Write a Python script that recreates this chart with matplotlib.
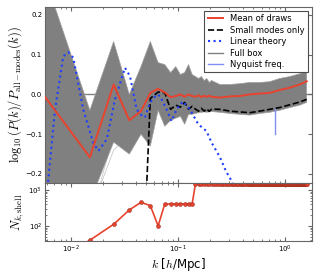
import numpy as np
import matplotlib
matplotlib.use("Agg")
from matplotlib import pyplot as plt

plt.rcParams['mathtext.fontset'] = 'cm'
plt.rcParams['font.family'] = ['DejaVu Sans']

# k bins of the draws (bin centres, dk = 0.01 h/Mpc)
k_bins = np.round(np.arange(0.005, 1.59, 0.01), 3)
n_shell = [6, 40, 111, 278, 455, 366, 100] + [408] * 7 + [1468] * (len(k_bins) - 14)

# top panel nodes
k_top = [0.005, 0.015, 0.025, 0.035, 0.045, 0.055, 0.065, 0.075, 0.085, 0.095,
         0.105, 0.115, 0.125, 0.135, 0.145, 0.155, 0.165, 0.175, 0.185, 0.195,
         0.205, 0.245, 0.305, 0.375, 0.465, 0.575, 0.715, 0.885, 1.105, 1.365, 1.585]
mean_draws = [0.015, -0.158, 0.025, -0.065, -0.042, 0.004, 0.014, 0.005, -0.007, -0.004,
              0.0, -0.006, 0.0, -0.004, -0.006, -0.002, -0.007, -0.003, -0.006, -0.003,
              -0.006, -0.008, -0.005, -0.004, 0.0, 0.002, 0.004, 0.011, 0.017, 0.025, 0.033]
band_hi = [0.34, -0.04, 0.133, 0.0, 0.07, 0.133, 0.08, 0.075, 0.055, 0.07,
           0.05, 0.055, 0.075, 0.05, 0.045, 0.04, 0.045, 0.035, 0.04, 0.03,
           0.035, 0.025, 0.025, 0.027, 0.03, 0.03, 0.032, 0.04, 0.045, 0.052, 0.058]
band_lo = [-0.5, -0.27, -0.12, -0.15, -0.10, -0.13, -0.04, -0.08, -0.065, -0.06,
           -0.055, -0.075, -0.05, -0.05, -0.048, -0.046, -0.045, -0.044, -0.045, -0.043,
           -0.043, -0.045, -0.048, -0.05, -0.052, -0.048, -0.045, -0.04, -0.033, -0.027, -0.02]

# a few stray draws outside the dense band (low k only)
k_stray = [0.005, 0.015, 0.025, 0.035]
stray_draws = [[-0.45, -0.32, -0.10, -0.12],
               [-0.40, -0.30, -0.14, -0.10],
               [-0.35, -0.28, -0.08, -0.14]]

k_small = k_top[4:]
small_modes = [-0.57, -0.01, 0.006, 0.004, -0.0375, -0.027, -0.032, -0.02, -0.037, -0.03,
               -0.037, -0.042, -0.035, -0.042, -0.036, -0.043, -0.037, -0.0375, -0.042,
               -0.044, -0.046, -0.042, -0.0375, -0.033, -0.026, -0.019, -0.0125]

k_lin = [0.0055, 0.00614, 0.0071, 0.00848, 0.00944, 0.0105, 0.013, 0.0161, 0.018, 0.0216,
         0.0257, 0.0319, 0.0355, 0.041, 0.0456, 0.049, 0.0545, 0.063, 0.0677, 0.078,
         0.0868, 0.0968, 0.1107, 0.1288, 0.154, 0.184, 0.205, 0.245, 0.279, 0.315, 0.35]
linear_theory = [-0.33, -0.2125, -0.0375, 0.096, 0.106, 0.092, -0.0375, -0.121, -0.142, -0.1125,
                 -0.0125, 0.067, 0.046, -0.0375, -0.0525, -0.058, -0.021, 0.0, -0.004, -0.0375,
                 -0.067, -0.0375, -0.0175, -0.0375, -0.075, -0.0925, -0.121, -0.1575, -0.1925,
                 -0.2175, -0.25]

k_nyquist = 0.805
nyq_range = [-0.1, -0.037]

red = '#e8432e'
spine_col = '0.4'

fig = plt.figure(figsize=(3.21, 2.77), dpi=100)
ax = fig.add_axes([0.140, 0.3404, 0.832, 0.6346])
ax2 = fig.add_axes([0.140, 0.130, 0.832, 0.2104], sharex=ax)

# draws band
ax.axhline(0, color='gray', lw=1, zorder=1)
for d in stray_draws:
    ax.plot(k_stray, d, color='#c0c0c0', lw=0.5, zorder=1.5)
ax.fill_between(k_top, band_lo, band_hi, color='#808080', lw=0, zorder=2)
ax.plot(k_top, band_hi, color='#a0a0a0', lw=0.5, zorder=2)
ax.plot(k_top, band_lo, color='#a0a0a0', lw=0.5, zorder=2)

ax.plot(k_top, mean_draws, color=red, lw=1.4, zorder=5, label='Mean of draws')
ax.plot(k_small, small_modes, 'k--', lw=1.2, zorder=4, label='Small modes only')
ax.plot(k_lin, linear_theory, ':', color='#1f3fff', lw=1.5, zorder=4, label='Linear theory')
ax.plot([], [], color='gray', lw=1, label='Full box')
ax.plot([k_nyquist, k_nyquist], nyq_range, color='#7f8fef', lw=1, zorder=4,
        label='Nyquist freq.')

ax.set_xscale('log')
ax.set_xlim(0.00571, 1.776)
ax.set_ylim(-0.222, 0.22)
ax.set_yticks([-0.2, -0.1, 0.0, 0.1, 0.2])
ax.set_ylabel(r'$\log_{10}(P(k)/P_{\rm all-modes}(k))$', fontsize=9, labelpad=1)
ax.tick_params(labelbottom=False)

leg = ax.legend(loc='upper right', fontsize=6, fancybox=False, framealpha=1,
                borderaxespad=0.45, handlelength=1.8, labelspacing=0.3,
                handletextpad=0.9, borderpad=0.4)
leg.get_frame().set_edgecolor('0.3')
leg.get_frame().set_linewidth(0.8)

ax2.plot(k_bins, n_shell, '-', color=red, lw=1.2, marker='o', ms=2.8,
         mfc=red, mec='#a03020', mew=0.4)
ax2.set_yscale('log')
ax2.set_ylim(38, 1597)
ax2.set_xlabel(r'$k$ [$h$/Mpc]', fontsize=8.5, labelpad=1)
ax2.set_ylabel(r'$N_{k,\rm shell}$', fontsize=9, labelpad=2)

for a in (ax, ax2):
    a.tick_params(which='both', direction='in', top=True, right=True,
                  labelsize=5, color=spine_col, pad=2)
    a.tick_params(which='major', length=3)
    a.tick_params(which='minor', length=1.5)
    for s in a.spines.values():
        s.set_color(spine_col)
        s.set_linewidth(0.8)

fig.savefig('out.png', dpi=100)
